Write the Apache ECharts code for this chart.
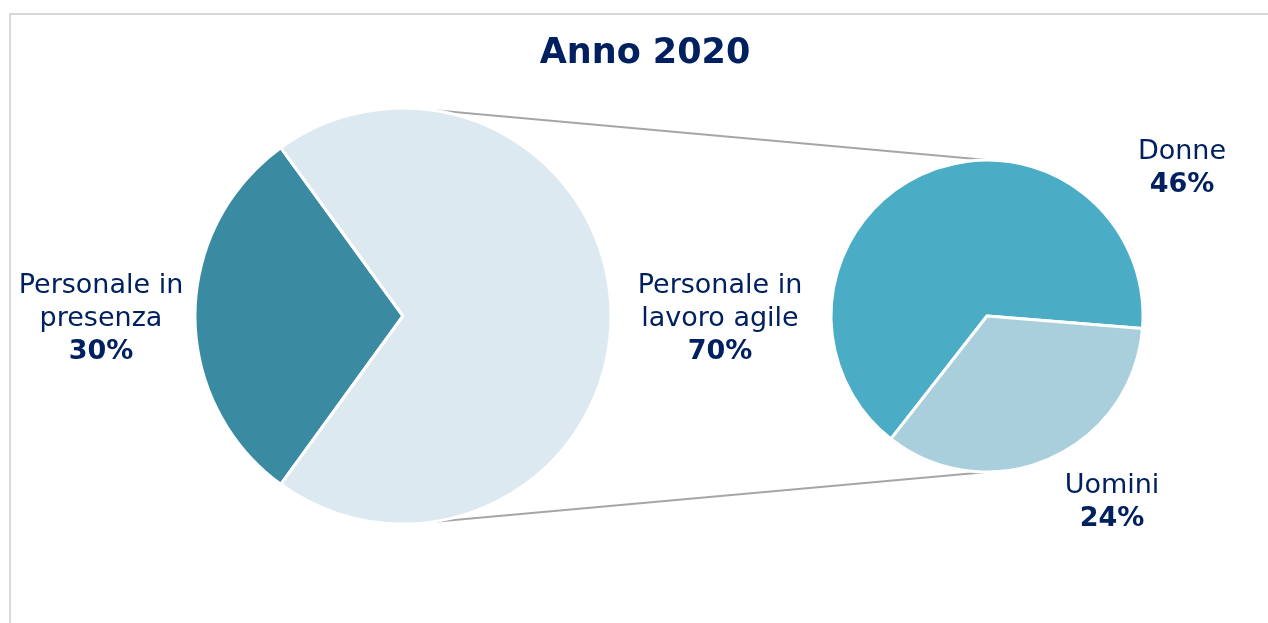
<!DOCTYPE html>
<html>
<head>
<meta charset="utf-8">
<script src="https://cdn.jsdelivr.net/npm/echarts@6/dist/echarts.min.js"></script>
<style>html,body{margin:0;padding:0;background:#fff}#c{width:1268px;height:623px}</style>
</head>
<body>
<div id="c"></div>
<script>
// ---- data ----
const titleText = 'Anno 2020';
const mainNames = ['Personale in\npresenza', 'Personale in\nlavoro agile'];
const mainValues = [30, 70];
const subNames = ['Donne', 'Uomini'];
const subValues = [46, 24];

// ---- geometry (layout) ----
const L = { cx: 403, cy: 316, r: 208 };
const R = { cx: 987, cy: 316, r: 156 };
const mainLabelOffset = [[-302, 3], [317, 3]];
const subLabelOffset = [[195, -148], [125, 186]];
const connectAngle = 82 * Math.PI / 180;

const navy = '#002060';
const mainColors = ['#3A8BA1', '#DDE9F0'];
const subColors = ['#4BACC6', '#A9CFDC'];

const sum = a => a.reduce((s, v) => s + v, 0);
const mainTotal = sum(mainValues);
const mainStart = 180 + (mainValues[0] / mainTotal) * 360 / 2;
const subStart = 232;

const rich = {
  n: { fontFamily: 'DejaVu Sans', fontSize: 27, color: navy, lineHeight: 33, align: 'center' },
  v: { fontFamily: 'DejaVu Sans', fontSize: 27, fontWeight: 'bold', color: navy, lineHeight: 33, align: 'center' }
};
function fmt(p) { return '{n|' + p.name + '}\n{v|' + p.value + '%}'; }

const chart = echarts.init(document.getElementById('c'), null, { renderer: 'canvas' });

const graphics = [
  { type: 'rect', z: -10, silent: true,
    shape: { x: 10, y: 14, width: 1400, height: 800 },
    style: { fill: 'none', stroke: '#D9D9D9', lineWidth: 2 } },
  { type: 'line', z: -5, silent: true,
    shape: { x1: L.cx + L.r * Math.cos(connectAngle), y1: L.cy - L.r * Math.sin(connectAngle), x2: R.cx, y2: R.cy - R.r },
    style: { stroke: '#A6A6A6', lineWidth: 2 } },
  { type: 'line', z: -5, silent: true,
    shape: { x1: L.cx + L.r * Math.cos(connectAngle), y1: L.cy + L.r * Math.sin(connectAngle), x2: R.cx, y2: R.cy + R.r },
    style: { stroke: '#A6A6A6', lineWidth: 2 } }
];

const labelCommon = { show: true, position: 'outside', formatter: fmt, rich: rich, overflow: 'none', width: 400 };

const option = {
  animation: false,
  backgroundColor: '#fff',
  title: {
    text: titleText, left: 640, top: 31, textAlign: 'center',
    textStyle: { fontFamily: 'DejaVu Sans', fontSize: 35, fontWeight: 'bold', color: navy }
  },
  graphic: graphics,
  series: [
    {
      type: 'pie', center: [L.cx, L.cy], radius: [0, L.r], startAngle: mainStart, clockwise: true,
      data: mainNames.map((n, i) => ({ name: n, value: mainValues[i], itemStyle: { color: mainColors[i] } })),
      itemStyle: { borderColor: '#fff', borderWidth: 3 },
      label: labelCommon,
      labelLine: { show: false },
      labelLayout: p => ({ x: L.cx + mainLabelOffset[p.dataIndex][0], y: L.cy + mainLabelOffset[p.dataIndex][1], align: 'center', verticalAlign: 'middle' }),
      emphasis: { disabled: true }, silent: true
    },
    {
      type: 'pie', center: [R.cx, R.cy], radius: [0, R.r], startAngle: subStart, clockwise: true,
      data: subNames.map((n, i) => ({ name: n, value: subValues[i], itemStyle: { color: subColors[i] } })),
      itemStyle: { borderColor: '#fff', borderWidth: 3 },
      label: labelCommon,
      labelLine: { show: false },
      labelLayout: p => ({ x: R.cx + subLabelOffset[p.dataIndex][0], y: R.cy + subLabelOffset[p.dataIndex][1], align: 'center', verticalAlign: 'middle' }),
      emphasis: { disabled: true }, silent: true
    }
  ]
};
chart.setOption(option);
</script>
</body>
</html>
